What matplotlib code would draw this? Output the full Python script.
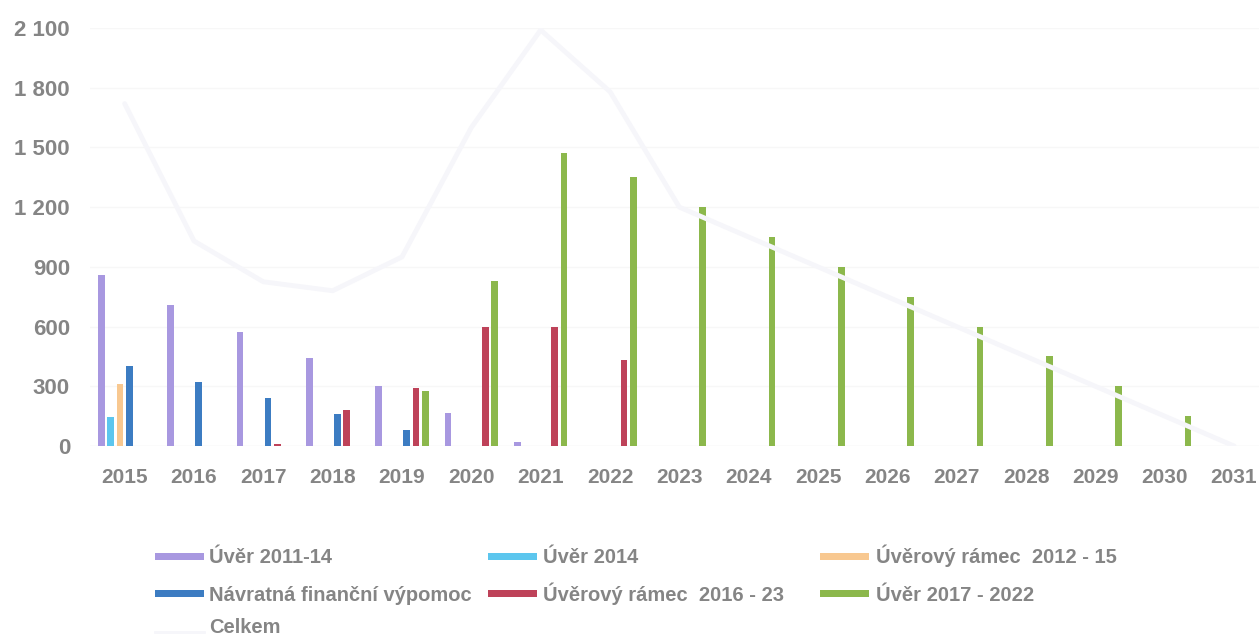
import matplotlib
matplotlib.use("Agg")
import matplotlib.pyplot as plt
from matplotlib.patches import Rectangle
from matplotlib.lines import Line2D
from matplotlib.ticker import FuncFormatter

years = ["2015", "2016", "2017", "2018", "2019", "2020", "2021", "2022", "2023",
         "2024", "2025", "2026", "2027", "2028", "2029", "2030", "2031"]

uver_2011_14 = [860, 710, 575, 440, 300, 165, 20, 0, 0, 0, 0, 0, 0, 0, 0, 0, 0]
uver_2014 = [145, 0, 0, 0, 0, 0, 0, 0, 0, 0, 0, 0, 0, 0, 0, 0, 0]
ur_2012_15 = [310, 0, 0, 0, 0, 0, 0, 0, 0, 0, 0, 0, 0, 0, 0, 0, 0]
navratna = [400, 320, 240, 160, 80, 0, 0, 0, 0, 0, 0, 0, 0, 0, 0, 0, 0]
ur_2016_23 = [0, 0, 8, 180, 290, 600, 600, 430, 0, 0, 0, 0, 0, 0, 0, 0, 0]
uver_2017_22 = [0, 0, 0, 0, 275, 830, 1470, 1350, 1200, 1050, 900, 750, 600, 450, 300, 150, 0]
celkem = [1720, 1030, 825, 780, 950, 1600, 2090, 1780, 1200, 1050, 900, 750, 600, 450, 300, 150, 0]

series_labels = ["Úvěr 2011-14", "Úvěr 2014", "Úvěrový rámec  2012 - 15",
                 "Návratná finanční výpomoc", "Úvěrový rámec  2016 - 23", "Úvěr 2017 - 2022"]
line_label = "Celkem"
y_ticks = [0, 300, 600, 900, 1200, 1500, 1800, 2100]

colors = ["#a898e0", "#5cc6ee", "#f8c890", "#3c7cc2", "#be4259", "#8cb84c"]
line_color = "#f6f6fa"
text_color = "#858585"

plt.rcParams["font.family"] = ["Liberation Sans", "DejaVu Sans"]

W, H = 1259, 639
fig = plt.figure(figsize=(W / 100, H / 100), dpi=100)
ax = fig.add_axes([90 / W, (H - 446) / H, (W - 90) / W, (446 - 28) / H])

series = [uver_2011_14, uver_2014, ur_2012_15, navratna, ur_2016_23, uver_2017_22]
x = list(range(len(years)))
slot = 0.134
bw = 0.095
for k, (vals, col) in enumerate(zip(series, colors)):
    xs = [i + (k - 2.5) * slot for i in x]
    ax.bar(xs, vals, width=bw, color=col, zorder=2, linewidth=0)

ax.plot(x, celkem, color=line_color, lw=3.5, zorder=3,
        solid_capstyle="round", solid_joinstyle="round")

ax.set_xlim(-0.5, 16.36)
ax.set_ylim(0, 2100)
ax.set_yticks(y_ticks)
ax.yaxis.set_major_formatter(FuncFormatter(lambda v, p: f"{int(v):,}".replace(",", " ")))
ax.set_xticks(x)
ax.set_xticklabels(years)
ax.tick_params(axis="both", length=0, colors=text_color)
ax.tick_params(axis="y", pad=14.4, labelsize=16)
ax.tick_params(axis="x", pad=16, labelsize=15)
for lab in ax.get_xticklabels() + ax.get_yticklabels():
    lab.set_fontweight("bold")
    lab.set_color(text_color)
ax.grid(axis="y", color="#f7f7f7", lw=1, zorder=0)
for s in ax.spines.values():
    s.set_visible(False)
ax.axhline(0, color="#f2f2f2", lw=1, zorder=1)

# legend (manual placement, row-wise like the reference)
def fx(px):
    return px / W

def fy(py):
    return (H - py) / H

entries = [
    (155, 209, 556.5, 563, colors[0], series_labels[0], "bar"),
    (488, 543, 556.5, 563, colors[1], series_labels[1], "bar"),
    (820, 876, 556.5, 563, colors[2], series_labels[2], "bar"),
    (155, 209, 593.5, 601, colors[3], series_labels[3], "bar"),
    (488, 543, 593.5, 601, colors[4], series_labels[4], "bar"),
    (820, 876, 593.5, 601, colors[5], series_labels[5], "bar"),
    (155, 209, 632, 633, line_color, line_label, "line"),
]
for hx, tx, hy, by, col, lab, kind in entries:
    if kind == "bar":
        fig.add_artist(Rectangle((fx(hx), fy(hy + 3.5)), fx(49), 7 / H,
                                 transform=fig.transFigure, color=col, lw=0))
    else:
        fig.add_artist(Line2D([fx(hx), fx(hx + 49)], [fy(hy), fy(hy)],
                              transform=fig.transFigure, color=col, lw=2.0))
    fig.text(fx(tx), fy(by), lab, ha="left", va="baseline", fontsize=14.5,
             fontweight="bold", color=text_color)

fig.savefig("out.png", dpi=100, facecolor="white")
